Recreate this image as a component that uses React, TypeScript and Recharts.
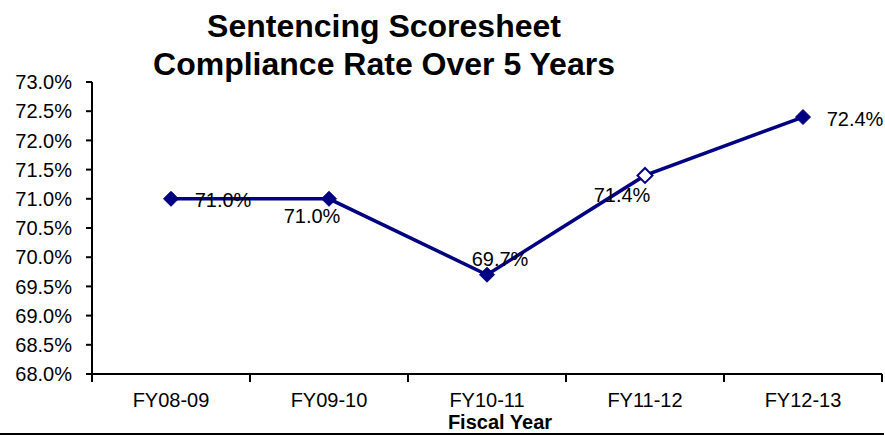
import { LineChart, Line, XAxis, YAxis, LabelList } from 'recharts';

const years = ['FY08-09', 'FY09-10', 'FY10-11', 'FY11-12', 'FY12-13'];
const complianceRate = [71.0, 71.0, 69.7, 71.4, 72.4];
const hollowPoint = [false, false, false, true, false];
const yTicks = [68, 68.5, 69, 69.5, 70, 70.5, 71, 71.5, 72, 72.5, 73];

const data = years.map((year, i) => ({
  year,
  rate: complianceRate[i],
  hollow: hollowPoint[i],
}));

// per-point label offsets, as placed in the original chart
const labelOffsets = [
  [52, 1],
  [-17, 17],
  [13, -16],
  [-23, 20],
  [52, 2],
];

const NAVY = '#000080';
const FONT = 'Arial, "Liberation Sans", sans-serif';
const HALF_BAND = 79;

const Diamond = (props: any) => {
  const { cx, cy, payload } = props;
  if (cx == null || cy == null) return null;
  const r = 7.5;
  return (
    <path
      d={`M${cx},${cy - r} L${cx + r},${cy} L${cx},${cy + r} L${cx - r},${cy} Z`}
      fill={payload.hollow ? '#fff' : NAVY}
      stroke={NAVY}
      strokeWidth={payload.hollow ? 2 : 1}
    />
  );
};

const PointLabel = (props: any) => {
  const { x, y, value, index } = props;
  const [dx, dy] = labelOffsets[index] || [0, 0];
  return (
    <text
      x={x + dx}
      y={y + dy}
      textAnchor="middle"
      dominantBaseline="central"
      fontSize={20}
      fontFamily={FONT}
      fill="#000"
    >
      {`${Number(value).toFixed(1)}%`}
    </text>
  );
};

const YearTick = (props: any) => {
  const { x, y, payload, index } = props;
  const last = index === years.length - 1;
  return (
    <g>
      <line x1={x - HALF_BAND} x2={x - HALF_BAND} y1={y - 8} y2={y} stroke="#000" strokeWidth={2} />
      {last && (
        <line x1={x + HALF_BAND} x2={x + HALF_BAND} y1={y - 8} y2={y} stroke="#000" strokeWidth={2} />
      )}
      <text x={x} y={y + 25} textAnchor="middle" fontSize={20} fontFamily={FONT} fill="#000">
        {payload.value}
      </text>
    </g>
  );
};

export default function App() {
  return (
    <div style={{ position: 'absolute', left: 0, top: 0, width: 885, height: 435, background: '#fff' }}>
      <div
        style={{
          position: 'absolute',
          left: 0,
          top: 7,
          width: 768,
          textAlign: 'center',
          fontFamily: FONT,
          fontWeight: 'bold',
          fontSize: 32,
          lineHeight: '38px',
          color: '#000',
          whiteSpace: 'nowrap',
        }}
      >
        Sentencing Scoresheet
        <br />
        Compliance Rate Over 5 Years
      </div>
      <LineChart
        width={885}
        height={435}
        data={data}
        margin={{ top: 82, right: 3, left: 0, bottom: 0 }}
      >
        <XAxis
          dataKey="year"
          xAxisId="bottom"
          height={61}
          padding={{ left: HALF_BAND, right: HALF_BAND }}
          axisLine={{ stroke: '#000', strokeWidth: 2 }}
          tickLine={false}
          tickSize={6}
          tick={<YearTick />}
          interval={0}
        />
        <XAxis
          dataKey="year"
          xAxisId="top"
          orientation="top"
          height={0}
          padding={{ left: HALF_BAND, right: HALF_BAND }}
          axisLine={{ stroke: '#000', strokeWidth: 2 }}
          tick={false}
          tickLine={false}
        />
        <YAxis
          yAxisId="left"
          width={92}
          domain={[68, 73]}
          ticks={yTicks}
          interval={0}
          axisLine={{ stroke: '#000', strokeWidth: 2 }}
          tickLine={{ stroke: '#000', strokeWidth: 2 }}
          tickSize={6}
          tickMargin={14}
          tickFormatter={(v: number) => `${v.toFixed(1)}%`}
          tick={{ fill: '#000', fontSize: 20, fontFamily: FONT }}
        />
        <YAxis
          yAxisId="right"
          orientation="right"
          width={0}
          domain={[68, 73]}
          axisLine={{ stroke: '#000', strokeWidth: 2 }}
          tick={false}
          tickLine={false}
        />
        <Line
          xAxisId="bottom"
          yAxisId="left"
          type="linear"
          dataKey="rate"
          stroke={NAVY}
          strokeWidth={3.5}
          dot={<Diamond />}
          activeDot={false}
          isAnimationActive={false}
        >
          <LabelList dataKey="rate" content={<PointLabel />} />
        </Line>
      </LineChart>
      <div
        style={{
          position: 'absolute',
          left: 0,
          top: 412,
          width: 1000,
          textAlign: 'center',
          fontFamily: FONT,
          fontWeight: 'bold',
          fontSize: 20,
          lineHeight: '20px',
          color: '#000',
        }}
      >
        Fiscal Year
      </div>
      <div style={{ position: 'absolute', left: 0, top: 433, width: 884, height: 2, background: '#000' }} />
    </div>
  );
}
